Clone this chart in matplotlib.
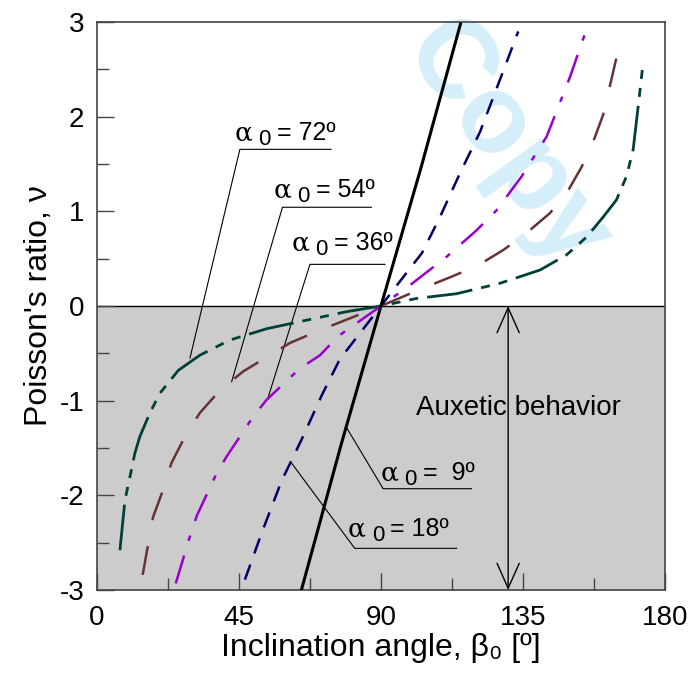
import matplotlib

matplotlib.use("Agg")
import matplotlib.pyplot as plt
from matplotlib.ticker import MultipleLocator

plt.rcParams["font.family"] = ["Liberation Sans", "DejaVu Sans"]
plt.rcParams["lines.scale_dashes"] = False
plt.rcParams["axes.unicode_minus"] = False

# curves, one per initial angle alpha_0
x_a9 = [64.8, 77.5, 90, 102.6, 115.2]
y_a9 = [-3.0, -1.45, 0, 1.45, 2.98]

x_a18 = [46.9, 52.3, 58.6, 61.7, 65, 71.3, 77, 81.9, 90, 98.1, 103, 108.7, 115, 121.4, 127.7, 133.5]
y_a18 = [-2.89, -2.39, -1.84, -1.63, -1.40, -0.94, -0.56, -0.35, 0, 0.35, 0.56, 0.94, 1.40, 1.84, 2.39, 2.90]

x_a36 = [25, 29.5, 31.6, 37.9, 41.1, 49.5, 53.8, 64.3, 70.7, 76.4, 90,
         99.2, 110.8, 120.3, 126.6, 134.6, 142.5, 149.9, 155.2]
y_a36 = [-2.93, -2.43, -2.22, -1.77, -1.59, -1.17, -0.99, -0.66, -0.52, -0.32, 0,
         0.22, 0.52, 0.80, 1.01, 1.37, 1.79, 2.42, 2.93]

x_a54 = [14.5, 17.8, 21, 23.6, 27.9, 32.6, 39, 46.4, 53.8, 61.2, 69.6, 90,
         103.4, 112.4, 120.8, 128.7, 136.1, 143.5, 148.8, 153.6, 157.3, 160.4, 164.6, 165.7]
y_a54 = [-2.84, -2.23, -1.94, -1.66, -1.38, -1.13, -0.89, -0.69, -0.54, -0.39, -0.27, 0,
         0.19, 0.31, 0.43, 0.59, 0.77, 0.98, 1.19, 1.47, 1.74, 2.02, 2.62, 2.84]

x_a72 = [7.3, 8.9, 10.5, 12, 13.6, 16.8, 20, 25.8, 32.6, 42.1, 53.8, 66.4, 79.1, 90,
         101.3, 114, 127.7, 140.4, 148.8, 155.2, 160.4, 164.6, 167.8, 169.9, 171.5, 173.1]
y_a72 = [-2.58, -2.05, -1.80, -1.56, -1.38, -1.13, -0.92, -0.68, -0.52, -0.36, -0.24, -0.15, -0.06, 0,
         0.08, 0.13, 0.24, 0.38, 0.54, 0.73, 0.94, 1.12, 1.37, 1.65, 2.11, 2.58]

# label: (text after "=", alpha x, baseline y, leader tip, underline x range, underline y)
labels = [
    ("= 72º", 43.7, 1.75, (29.5, -0.55), (45.3, 74.2), 1.655),
    ("= 54º", 56.1, 1.15, (42.7, -0.80), (58.8, 87.0), 1.043),
    ("= 36º", 61.7, 0.59, (54.3, -0.96), (67.5, 91.3), 0.44),
    ("=  9º", 90.0, -1.84, (79.2, -1.29), (90.7, 118.7), -1.93),
    ("= 18º", 79.6, -2.43, (61.7, -1.66), (81.7, 114.0), -2.56),
]

fig = plt.figure(figsize=(6.92, 6.77), dpi=100)
ax = fig.add_axes([0.140, 0.1285, 0.821, 0.839])

ax.fill_between([0, 180], -3, 0, color="#cccccc", zorder=0.5, lw=0)
ax.axhline(0, color="black", lw=1.0, zorder=1)

ax.plot(x_a72, y_a72, color="#003f3a", lw=2.0, dashes=(33, 6.5, 6.5, 6.5, 6.5, 6.5), zorder=3)
ax.plot(x_a54, y_a54, color="#663333", lw=1.8, dashes=(21, 19), zorder=3)
ax.plot(x_a36, y_a36, color="#9900cc", lw=1.8, dashes=(21, 11, 4, 11), zorder=3)
ax.plot(x_a18, y_a18, color="#000066", lw=1.8, dashes=(11.5, 8.5), zorder=3)
ax.plot(x_a9, y_a9, color="black", lw=2.2, zorder=3)

# leader lines + labels
for txt, xa, ya, tip, (u0, u1), uy in labels:
    ax.plot([tip[0], u0, u1], [tip[1], uy, uy], color="black", lw=0.8, zorder=2.5)
    ax.annotate("α", (xa, ya), fontsize=19, family=["DejaVu Serif"],
                va="baseline", ha="left", zorder=4)
    ax.annotate("0", (xa, ya), xytext=(17, -3.6), textcoords="offset points",
                fontsize=16, va="baseline", ha="left", zorder=4)
    ax.annotate(txt, (xa, ya), xytext=(30.5, 0), textcoords="offset points",
                fontsize=18, va="baseline", ha="left", zorder=4)

ax.text(101.1, -1.15, "Auxetic behavior", fontsize=20, va="baseline", ha="left")
ax.annotate("", xy=(130.3, -3), xytext=(130.3, 0),
            arrowprops=dict(arrowstyle="<->,head_length=0.9,head_width=0.4",
                            color="black", lw=1.0, shrinkA=0, shrinkB=0,
                            mutation_scale=20))

# watermark
ax.text(0.73, 0.785, "Copy", transform=fig.transFigure, fontsize=80, fontweight="bold",
        color="#d4eefa", rotation=-54, ha="center", va="center", zorder=1.5, clip_on=False)

ax.set_xlim(0, 180)
ax.set_ylim(-3, 3)
ax.xaxis.set_major_locator(MultipleLocator(45))
ax.xaxis.set_minor_locator(MultipleLocator(22.5))
ax.yaxis.set_major_locator(MultipleLocator(1))
ax.yaxis.set_minor_locator(MultipleLocator(0.5))
ax.tick_params(which="both", direction="in", top=False, right=False, color="#444444", width=1.0)
ax.tick_params(which="major", length=12, labelsize=20)
ax.tick_params(axis="x", which="major", pad=11)
ax.tick_params(axis="y", which="major", pad=9)
ax.tick_params(which="minor", length=8.5)
for s in ax.spines.values():
    s.set_color("#444444")
    s.set_linewidth(1.2)

ax.set_xlabel("Inclination angle, β₀ [º]", fontsize=23, labelpad=1)
ax.set_ylabel("Poisson's ratio, ν", fontsize=23, labelpad=4)

fig.savefig("out.png", dpi=100)
